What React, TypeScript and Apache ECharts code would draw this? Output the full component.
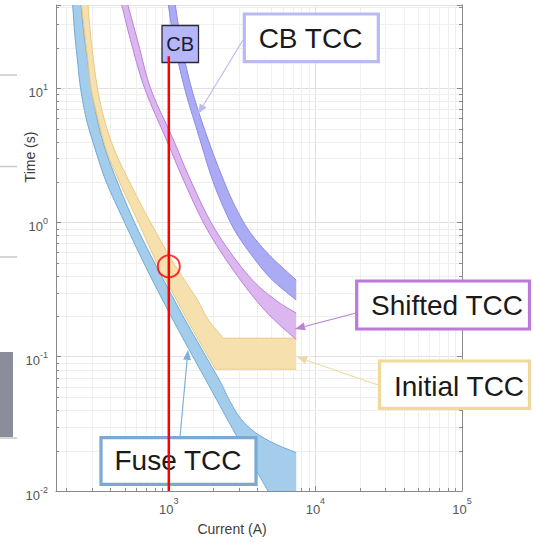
import React, { useEffect, useRef } from 'react';
import * as echarts from 'echarts';

// ---------- axis ranges & ticks ----------
const X_MIN = 170;
const X_MAX = 100000;
const Y_MIN = 0.01;
const Y_MAX = 41.6;
const xMinorTicks = [200, 300, 400, 500, 600, 700, 800, 900, 2000, 3000, 4000, 5000, 6000, 7000, 8000, 9000, 20000, 30000, 40000, 50000, 60000, 70000, 80000, 90000];
const yMinorTicks = [0.02, 0.03, 0.04, 0.05, 0.06, 0.07, 0.08, 0.09, 0.2, 0.3, 0.4, 0.5, 0.6, 0.7, 0.8, 0.9, 2, 3, 4, 5, 6, 7, 8, 9, 20, 30, 40];

// ---------- curves: [current (A), time (s)] ----------
const I_MAX = 7400;
const fuseMinMelt = [[220, 45.3], [227, 27.1], [238, 16.2], [250, 10.0], [275, 5.78], [316, 3.46], [370, 2.07], [499, 1.0], [694, 0.47], [1027, 0.204], [1406, 0.108], [1925, 0.058], [2636, 0.031], [3609, 0.0169], [4940, 0.0093]];
const fuseTotalClear = [[250, 45.3], [262, 27.1], [279, 16.2], [297, 10.0], [326, 5.78], [370, 3.46], [440, 2.07], [583, 1.0], [824, 0.47], [1240, 0.204], [1725, 0.108], [2253, 0.0646], [2636, 0.0458], [3084, 0.0348], [3783, 0.0279], [5178, 0.0227], [7400, 0.0193]];
const initialMin = [[252, 45.3], [265, 27.1], [280, 16.2], [295, 10.0], [330, 5.78], [375, 3.46], [454, 2.07], [621, 1.0], [851, 0.47], [1129, 0.264], [1595, 0.133], [2083, 0.0807], [7400, 0.0807]];
const initialMax = [[279, 45.3], [297, 21.3], [326, 10.0], [364, 5.78], [426, 3.46], [531, 2.07], [750, 1.0], [1111, 0.4725], [1570, 0.264], [1866, 0.187], [2361, 0.1374], [7400, 0.1374]];
const shiftedMin = [[468, 45.3], [557, 21.3], [683, 10.0], [965, 4.106], [1260, 2.066], [1837, 0.876], [3084, 0.3715], [4713, 0.2109], [7089, 0.1397], [7400, 0.134]];
const shiftedMax = [[515, 45.3], [621, 21.3], [750, 10.0], [1077, 4.106], [1406, 2.066], [2083, 0.876], [3724, 0.3715], [5602, 0.2547], [7400, 0.2109]];
const cbMin = [[980, 45.3], [1094, 21.3], [1280, 10.0], [1595, 4.47], [1987, 2.066], [2324, 1.345], [2807, 0.876], [3665, 0.571], [4940, 0.3846], [7400, 0.2636]];
const cbMax = [[1094, 45.3], [1221, 21.3], [1428, 10.0], [1808, 4.47], [2361, 2.066], [2807, 1.345], [3498, 0.876], [4787, 0.58], [7400, 0.3715]];

const cbLine = [[1000, 17.3], [1000, 0.01]];
const coordinationPoint = [[1000, 0.47]];

// ---------- styles ----------
const FONT = "'Liberation Sans', Arial, Helvetica, sans-serif";
const AXIS = '#8a8a8a';
const MAJOR_GRID = '#e1e1e1';
const MINOR_GRID = '#efefef';
const LABEL = '#555555';

function decadeLabel(v: number) {
  const e = Math.log10(v);
  const r = Math.round(e);
  if (Math.abs(e - r) > 1e-6) return '';
  return `{b|10}{s|${r}}`;
}

// centripetal Catmull-Rom through screen points (rendering only)
function crSegment(p0: number[], p1: number[], p2: number[], p3: number[], n: number, out: number[][]) {
  const d = (a: number[], b: number[]) => Math.max(Math.pow(Math.hypot(b[0] - a[0], b[1] - a[1]), 0.5), 1e-4);
  const t0 = 0, t1 = t0 + d(p0, p1), t2 = t1 + d(p1, p2), t3 = t2 + d(p2, p3);
  const lerp = (a: number[], b: number[], ta: number, tb: number, t: number) => {
    const u = (t - ta) / (tb - ta);
    return [a[0] + (b[0] - a[0]) * u, a[1] + (b[1] - a[1]) * u];
  };
  for (let k = 1; k <= n; k++) {
    const t = t1 + (t2 - t1) * (k / n);
    const A1 = lerp(p0, p1, t0, t1, t), A2 = lerp(p1, p2, t1, t2, t), A3 = lerp(p2, p3, t2, t3, t);
    const B1 = lerp(A1, A2, t0, t2, t), B2 = lerp(A2, A3, t1, t3, t);
    out.push(lerp(B1, B2, t1, t2, t));
  }
}

function smoothRun(pts: number[][], out: number[][]) {
  if (pts.length < 3) { for (let i = 1; i < pts.length; i++) out.push(pts[i]); return; }
  const n = pts.length;
  for (let i = 0; i < n - 1; i++) {
    const p1 = pts[i], p2 = pts[i + 1];
    const p0 = i > 0 ? pts[i - 1] : [2 * p1[0] - p2[0], 2 * p1[1] - p2[1]];
    const p3 = i + 2 < n ? pts[i + 2] : [2 * p2[0] - p1[0], 2 * p2[1] - p1[1]];
    crSegment(p0, p1, p2, p3, 10, out);
  }
}

function smoothPath(pts: number[][]) {
  const out: number[][] = [pts[0]];
  let run: number[][] = [pts[0]];
  for (let i = 0; i < pts.length - 1; i++) {
    const a = pts[i], b = pts[i + 1];
    if (Math.abs(a[1] - b[1]) < 0.5) {
      smoothRun(run, out);
      out.push(b);
      run = [b];
    } else {
      run.push(b);
    }
  }
  smoothRun(run, out);
  return out;
}

function bandSeries(name: string, lo: number[][], hi: number[][], fill: string, edge: string, z: number) {
  return {
    type: 'custom',
    name,
    coordinateSystem: 'cartesian2d',
    clip: true,
    silent: true,
    z,
    data: [lo[Math.floor(lo.length / 2)]],
    renderItem: (_params: any, api: any) => {
      const loPts = smoothPath(lo.map((p) => api.coord(p)));
      const hiPts = smoothPath(hi.map((p) => api.coord(p)));
      const last = lo[lo.length - 1];
      const poly = [...loPts];
      if (last[0] < I_MAX) poly.push(api.coord([I_MAX, last[1]]));
      for (let i = hiPts.length - 1; i >= 0; i--) poly.push(hiPts[i]);
      return {
        type: 'group',
        children: [
          { type: 'polygon', shape: { points: poly }, style: { fill, stroke: null } },
          { type: 'polyline', shape: { points: loPts }, style: { stroke: edge, lineWidth: 1, fill: null } },
          { type: 'polyline', shape: { points: hiPts }, style: { stroke: edge, lineWidth: 1, fill: null } },
        ],
      };
    },
  };
}

function arrow(x1: number, y1: number, x2: number, y2: number, color: string, w = 1.2) {
  const dx = x2 - x1, dy = y2 - y1;
  const len = Math.hypot(dx, dy);
  const ux = dx / len, uy = dy / len;
  const hl = 10, hw = 4;
  const bx = x2 - ux * hl, by = y2 - uy * hl;
  return [
    { type: 'line', z: 99, silent: true, shape: { x1, y1, x2: bx, y2: by }, style: { stroke: color, lineWidth: w } },
    { type: 'polygon', z: 99, silent: true, shape: { points: [[x2, y2], [bx - uy * hw, by + ux * hw], [bx + uy * hw, by - ux * hw]] }, style: { fill: color } },
  ];
}

function box(x: number, y: number, w: number, h: number, color: string) {
  return { type: 'rect', z: 100, silent: true, shape: { x, y, width: w, height: h }, style: { fill: '#ffffff', stroke: color, lineWidth: 3.2 } };
}

function label(text: string, x: number, y: number, size = 28, rotation = 0, color = '#1a1a1a') {
  return {
    type: 'text', z: 101, silent: true, x, y, rotation,
    style: { text, font: `${size}px ${FONT}`, fill: color, textAlign: 'center', textVerticalAlign: 'middle', align: 'center', verticalAlign: 'middle' },
  };
}

const option: any = {
  animation: false,
  backgroundColor: '#ffffff',
  grid: { left: 56, top: 5, width: 406, height: 486, containLabel: false, outerBoundsMode: 'none' },
  xAxis: {
    type: 'log', logBase: 10, min: X_MIN, max: X_MAX,
    axisLine: { show: true, lineStyle: { color: AXIS, width: 1 } },
    axisTick: { show: true, inside: true, length: 5, lineStyle: { color: AXIS } },
    splitLine: { show: true, lineStyle: { color: MAJOR_GRID, width: 1 } },
    axisLabel: {
      margin: 5, formatter: decadeLabel,
      rich: {
        b: { fontSize: 13, lineHeight: 26, color: LABEL, fontFamily: FONT },
        s: { fontSize: 9, lineHeight: 9, verticalAlign: 'top', color: LABEL, fontFamily: FONT },
      },
    },
  },
  yAxis: [
    {
      type: 'log', logBase: 10, min: Y_MIN, max: Y_MAX, position: 'left',
      axisLine: { show: true, lineStyle: { color: AXIS, width: 1 } },
      axisTick: { show: true, inside: true, length: 5, lineStyle: { color: AXIS } },
      splitLine: { show: true, lineStyle: { color: MAJOR_GRID, width: 1 } },
      axisLabel: {
        margin: 8, padding: [8, 0, 0, 0], formatter: decadeLabel,
        rich: {
          b: { fontSize: 13, lineHeight: 20, color: LABEL, fontFamily: FONT },
          s: { fontSize: 9, lineHeight: 9, verticalAlign: 'top', color: LABEL, fontFamily: FONT },
        },
      },
    },
    {
      type: 'log', logBase: 10, min: Y_MIN, max: Y_MAX, position: 'right',
      axisLine: { show: true, lineStyle: { color: AXIS, width: 1 } },
      axisTick: { show: true, inside: true, length: 5, lineStyle: { color: AXIS } },
      splitLine: { show: false },
      axisLabel: { show: false },
    },
  ],
  series: [
    {
      type: 'custom', name: 'xMinor', coordinateSystem: 'cartesian2d', silent: true, z: 1,
      data: xMinorTicks.map((v) => [v, Y_MIN]),
      renderItem: (params: any, api: any) => {
        const cs = params.coordSys;
        const p = api.coord([api.value(0), api.value(1)]);
        const x = Math.round(p[0]) + 0.5;
        const yb = cs.y + cs.height;
        return {
          type: 'group', children: [
            { type: 'line', shape: { x1: x, y1: cs.y, x2: x, y2: yb }, style: { stroke: MINOR_GRID, lineWidth: 1 } },
            { type: 'line', shape: { x1: x, y1: yb, x2: x, y2: yb - 3 }, style: { stroke: AXIS, lineWidth: 1 } },
          ],
        };
      },
    },
    {
      type: 'custom', name: 'yMinor', coordinateSystem: 'cartesian2d', silent: true, z: 1,
      data: yMinorTicks.map((v) => [X_MIN, v]),
      renderItem: (params: any, api: any) => {
        const cs = params.coordSys;
        const p = api.coord([api.value(0), api.value(1)]);
        const y = Math.round(p[1]) + 0.5;
        const xr = cs.x + cs.width;
        return {
          type: 'group', children: [
            { type: 'line', shape: { x1: cs.x, y1: y, x2: xr, y2: y }, style: { stroke: MINOR_GRID, lineWidth: 1 } },
            { type: 'line', shape: { x1: cs.x, y1: y, x2: cs.x + 3, y2: y }, style: { stroke: AXIS, lineWidth: 1 } },
            { type: 'line', shape: { x1: xr, y1: y, x2: xr - 3, y2: y }, style: { stroke: AXIS, lineWidth: 1 } },
          ],
        };
      },
    },
    bandSeries('Fuse TCC', fuseMinMelt, fuseTotalClear, '#a3cdea', '#6fa9d6', 2),
    bandSeries('Initial TCC', initialMin, initialMax, '#f6e1ae', '#e9c97f', 3),
    bandSeries('Shifted TCC', shiftedMin, shiftedMax, '#dbb6ef', '#b883d8', 4),
    bandSeries('CB TCC', cbMin, cbMax, '#aaaaf5', '#8c8ce6', 5),
    {
      type: 'line', name: 'CB', data: cbLine, showSymbol: false, silent: true, z: 120,
      lineStyle: { color: '#ff0000', width: 2.5 },
    },
    {
      type: 'scatter', name: 'point', data: coordinationPoint, symbol: 'circle', symbolSize: 22, silent: true, z: 120,
      itemStyle: { color: 'rgba(0,0,0,0)', borderColor: '#ff0000', borderWidth: 2 },
    },
  ],
  graphic: {
    elements: [
      // slide remnants on the left edge
      { type: 'line', z: 100, silent: true, shape: { x1: 0, y1: 75, x2: 17, y2: 75 }, style: { stroke: '#c8c8c8', lineWidth: 1.5 } },
      { type: 'line', z: 100, silent: true, shape: { x1: 0, y1: 166.5, x2: 17, y2: 166.5 }, style: { stroke: '#c8c8c8', lineWidth: 1.5 } },
      { type: 'line', z: 100, silent: true, shape: { x1: 0, y1: 257, x2: 17, y2: 257 }, style: { stroke: '#c8c8c8', lineWidth: 1.5 } },
      { type: 'rect', z: 100, silent: true, shape: { x: 0, y: 352, width: 13, height: 85 }, style: { fill: '#8b8d9b' } },
      { type: 'line', z: 100, silent: true, shape: { x1: 0, y1: 438, x2: 17, y2: 438 }, style: { stroke: '#c8c8c8', lineWidth: 1.5 } },
      // axis titles
      label('Time (s)', 30, 157, 14, Math.PI / 2, '#404040'),
      label('Current (A)', 232, 529, 14, 0, '#404040'),
      // arrows
      ...arrow(243, 40, 198, 114, '#bcbcf2'),
      ...arrow(356, 313, 295, 329, '#bb80d8'),
      ...arrow(378, 385, 297, 357, '#f0d9a0'),
      ...arrow(180, 437, 188, 350, '#7fb0d8'),
      // annotation boxes
      box(244.3, 14, 134, 47.7, '#b9b9f3'),
      label('CB TCC', 310.5, 38.5),
      box(356.7, 281, 172.8, 48, '#bb7ad8'),
      label('Shifted TCC', 447, 305.5),
      box(379.5, 361, 150, 47.3, '#f0d99a'),
      label('Initial TCC', 459, 386),
      box(101, 437.7, 155, 46.6, '#7aaad4'),
      label('Fuse TCC', 178, 460),
      // CB tag
      { type: 'rect', z: 100, silent: true, shape: { x: 162, y: 25.5, width: 36.5, height: 37 }, style: { fill: '#b6b6fa', stroke: '#2a2a3a', lineWidth: 1.3 } },
      label('CB', 180.2, 44.3, 20, 0, '#1c1c30'),
    ],
  },
};

export default function App() {
  const ref = useRef<HTMLDivElement>(null);
  useEffect(() => {
    const chart = echarts.init(ref.current as HTMLDivElement, null, { renderer: 'svg' });
    chart.setOption(option);
    return () => chart.dispose();
  }, []);
  return <div ref={ref} style={{ position: 'absolute', left: 0, top: 0, width: 533, height: 542 }} />;
}
